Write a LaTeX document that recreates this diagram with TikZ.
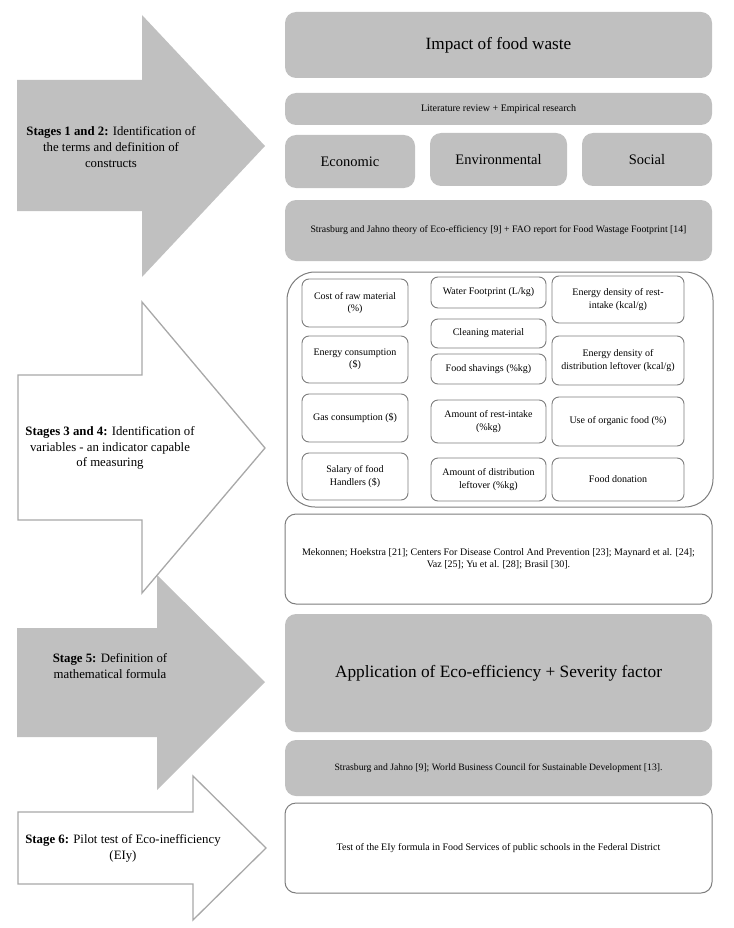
\documentclass[tikz,border=0pt]{standalone}
\usepackage{fontspec}
\setmainfont{Liberation Serif}
\usepackage{tikz}

\definecolor{boxgray}{RGB}{192,192,192}
\definecolor{linegray}{RGB}{125,125,125}
\definecolor{arrowline}{RGB}{168,168,168}

\tikzset{
  graybox/.style={rounded corners=11pt, fill=boxgray, align=center, inner sep=2pt},
  whitebox/.style={rounded corners=11pt, draw=linegray, line width=1pt, fill=white, align=center, inner sep=2pt},
  varbox/.style={rounded corners=7pt, draw=linegray, line width=0.9pt, fill=white, align=center, inner sep=1pt, font=\fontsize{10}{12.5}\selectfont},
  grayarrow/.style={fill=boxgray},
  whitearrow/.style={draw=arrowline, line width=1.3pt, fill=white},
  stagetext/.style={align=center, font=\fontsize{12.8}{15.8}\selectfont}
}

\begin{document}
\begin{tikzpicture}[x=1pt,y=-1pt]
\useasboundingbox (0,0) rectangle (733,928);

% stage arrows
\fill[grayarrow] (17,80)--(142,80)--(142,15)--(265,146)--(142,277)--(142,211)--(17,211)--cycle;
\fill[grayarrow] (17,628)--(157,628)--(157,575)--(265,682)--(157,790)--(157,737)--(17,737)--cycle;
\draw[whitearrow] (18,375)--(142,375)--(142,302)--(265,448)--(142,593)--(142,520)--(18,520)--cycle;
\draw[whitearrow] (18,812)--(193,812)--(193,776)--(266,848)--(193,920)--(193,884)--(18,884)--cycle;

\node[stagetext] (stageA) at (111,147) {\textbf{Stages 1 and 2:} Identification of\\the terms and definition of\\constructs};
\node[stagetext] (stageB) at (110,448) {\textbf{Stages 3 and 4:} Identification of\\variables - an indicator capable\\of measuring};
\node[stagetext] (stageC) at (110,666) {\textbf{Stage 5:} Definition of\\mathematical formula};
\node[stagetext] (stageD) at (123,848) {\textbf{Stage 6:} Pilot test of Eco-inefficiency\\(EIy)};

% stages 1 and 2
\node[graybox, minimum width=427pt, minimum height=66pt, font=\fontsize{17.2}{20}\selectfont] (impact) at (498.5,45) {Impact of food waste};
\node[graybox, minimum width=427pt, minimum height=32pt, font=\fontsize{10}{12}\selectfont] (review) at (498.5,109) {Literature review + Empirical research};
\node[graybox, minimum width=130pt, minimum height=53pt, font=\fontsize{14.5}{17}\selectfont] (economic) at (350,161.5) {Economic};
\node[graybox, minimum width=137pt, minimum height=53pt, font=\fontsize{14.5}{17}\selectfont] (environ) at (498.5,159.5) {Environmental};
\node[graybox, minimum width=130pt, minimum height=53pt, font=\fontsize{14.5}{17}\selectfont] (social) at (647,159.5) {Social};
\node[graybox, minimum width=427pt, minimum height=61pt, font=\fontsize{9.8}{12}\selectfont] (theory) at (498.5,230.5) {Strasburg and Jahno theory of Eco-efficiency [9] + FAO report for Food Wastage Footprint [14]};

% stages 3 and 4
\node[draw=linegray, line width=1pt, rounded corners=28pt, minimum width=426pt, minimum height=235pt] (variables) at (500,389.5) {};

\node[varbox, minimum width=106pt, minimum height=48pt] (rawcost) at (355,303) {Cost of raw material\\(\%)};
\node[varbox, minimum width=106pt, minimum height=47pt] (energy) at (355,359.5) {Energy consumption\\(\$)};
\node[varbox, minimum width=106pt, minimum height=48pt] (gas) at (355,418) {Gas consumption (\$)};
\node[varbox, minimum width=106pt, minimum height=47pt] (salary) at (355,476.5) {Salary of food\\Handlers (\$)};

\node[varbox, minimum width=115pt, minimum height=31pt] (water) at (488.5,292.5) {Water Footprint (L/kg)};
\node[varbox, minimum width=115pt, minimum height=29pt] (cleaning) at (488.5,333.5) {Cleaning material};
\node[varbox, minimum width=115pt, minimum height=30pt] (shavings) at (488.5,369) {Food shavings (\%kg)};
\node[varbox, minimum width=115pt, minimum height=43pt] (restintake) at (488.5,421.5) {Amount of rest-intake\\(\%kg)};
\node[varbox, minimum width=115pt, minimum height=43pt] (leftover) at (488.5,479.5) {Amount of distribution\\leftover (\%kg)};

\node[varbox, minimum width=132pt, minimum height=47pt] (densrest) at (618,299.5) {Energy density of rest-\\intake (kcal/g)};
\node[varbox, minimum width=132pt, minimum height=49pt] (densleft) at (618,360.5) {Energy density of\\distribution leftover (kcal/g)};
\node[varbox, minimum width=132pt, minimum height=49pt] (organic) at (618,421.5) {Use of organic food (\%)};
\node[varbox, minimum width=132pt, minimum height=43pt] (donation) at (618,479.5) {Food donation};

\node[whitebox, minimum width=427pt, minimum height=90pt, font=\fontsize{10}{12.3}\selectfont] (sources) at (498.5,559) {Mekonnen; Hoekstra [21]; Centers For Disease Control And Prevention [23]; Maynard et al. [24];\\Vaz [25]; Yu et al. [28]; Brasil [30].};

% stage 5
\node[graybox, minimum width=427pt, minimum height=118pt, font=\fontsize{17.3}{20}\selectfont] (formula) at (498.5,673) {Application of Eco-efficiency + Severity factor};
\node[graybox, minimum width=427pt, minimum height=56pt, font=\fontsize{9.7}{12}\selectfont] (wbcsd) at (498.5,768) {Strasburg and Jahno [9]; World Business Council for Sustainable Development [13].};

% stage 6
\node[whitebox, minimum width=427pt, minimum height=90pt, font=\fontsize{10}{12}\selectfont] (pilot) at (498.5,848) {Test of the EIy formula in Food Services of public schools in the Federal District};

\end{tikzpicture}
\end{document}
